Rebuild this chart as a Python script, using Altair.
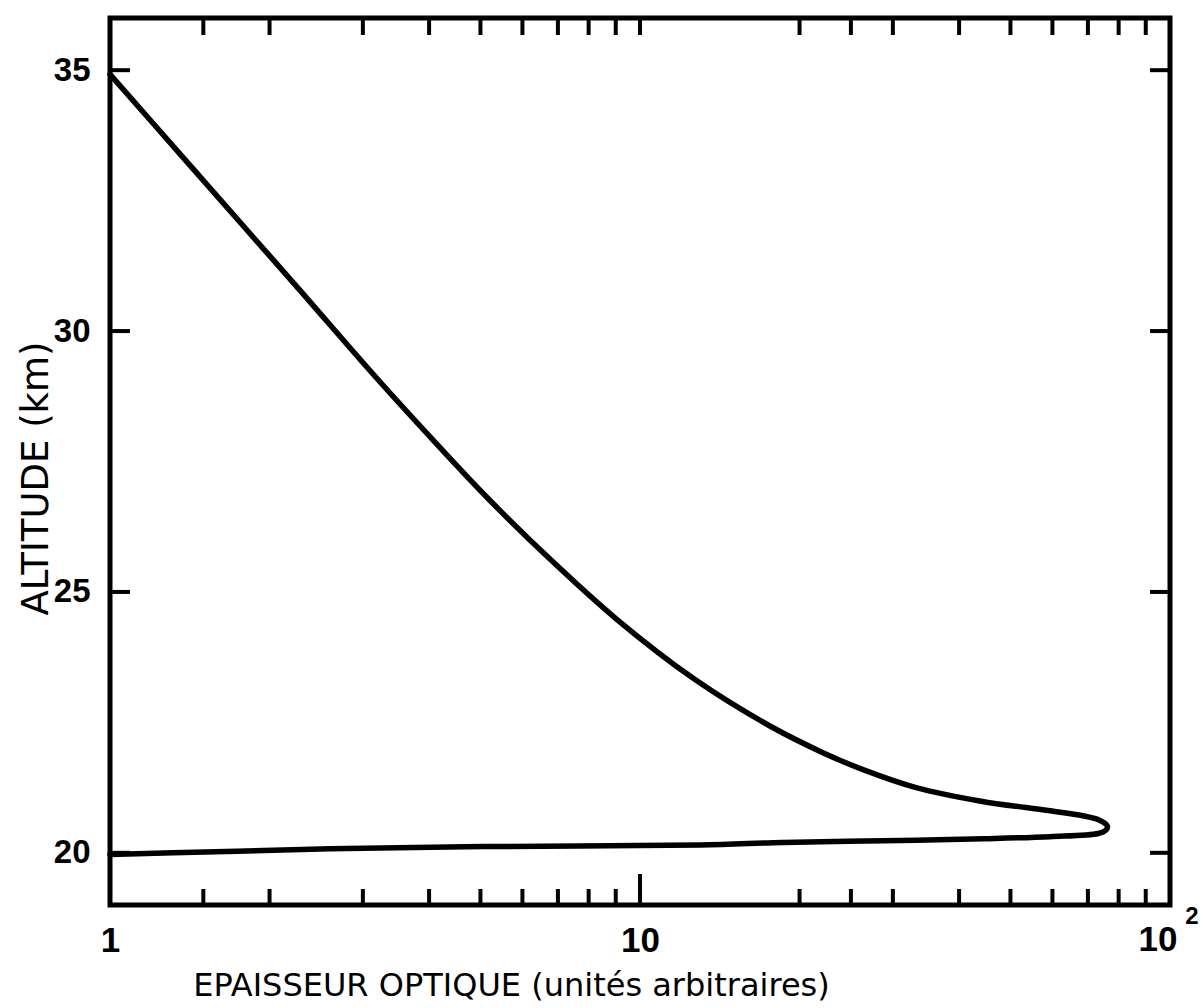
import altair as alt
import pandas as pd

# Optical thickness profile (arbitrary units) versus altitude (km).
# Upper branch, from the top of the layer down to the peak.
upper_tau = [1.0, 1.373, 1.837, 2.283, 3.19, 4.087, 5.168, 6.794, 9.05, 12.70,
             17.52, 22.24, 26.58, 33.18, 44.0, 58.9, 68.5, 73.8, 76.2]
upper_alt = [34.92, 33.33, 31.87, 30.78, 29.09, 27.89, 26.79, 25.61, 24.47, 23.32,
             22.44, 21.91, 21.58, 21.25, 20.99, 20.81, 20.71, 20.62, 20.51]
# Lower branch, from the peak back to the left edge.
lower_tau = [75.6, 73.2, 59.4, 44.4, 28.8, 18.6, 13.0, 5.06, 2.6, 1.58, 1.0]
lower_alt = [20.43, 20.37, 20.31, 20.27, 20.23, 20.20, 20.15, 20.12, 20.08, 20.02, 19.97]

x_label_values = [1, 10]
x_power_label = {"tau": [100], "base": ["10"], "exponent": ["2"]}
x_minor_ticks = [1.5, 2, 3, 4, 5, 6, 7, 8, 9, 20, 25, 30, 40, 50, 60, 70, 80, 90]
x_major_ticks = [10]
y_tick_values = [20, 25, 30, 35]

W, H = 1060, 887
LABEL_FONT = "Liberation Sans"
TITLE_FONT = "DejaVu Sans"

tau = upper_tau + lower_tau
alt_km = upper_alt + lower_alt
profile = pd.DataFrame({"tau": tau, "alt": alt_km, "order": list(range(len(tau)))})

xs = alt.Scale(type="log", domain=[1, 100], nice=False)
ys = alt.Scale(domain=[19.0, 36.0], nice=False, zero=False)

x_axis = alt.Axis(
    values=x_label_values,
    ticks=False, domain=False, grid=False,
    labelFont=LABEL_FONT, labelFontSize=35, labelFontWeight="bold", labelColor="black",
    labelPadding=18, labelFlush=False,
    title="EPAISSEUR OPTIQUE (unités arbitraires)",
    titleFont=TITLE_FONT, titleFontSize=32, titleFontWeight="normal", titleColor="black",
    titleX=401, titleY=80, titleAlign="center", titleBaseline="middle",
)
y_axis = alt.Axis(
    values=y_tick_values, format="d",
    ticks=False, domain=False, grid=False,
    labelFont=LABEL_FONT, labelFontSize=33, labelFontWeight="bold", labelColor="black",
    labelPadding=20,
    title="ALTITUDE (km)",
    titleFont=TITLE_FONT, titleFontSize=37, titleFontWeight="normal", titleColor="black",
    titleAngle=270, titleX=-74, titleY=460, titleAlign="center", titleBaseline="middle",
)

curve = alt.Chart(profile).mark_line(
    color="black", strokeWidth=5.5, interpolate="catmull-rom",
    strokeCap="round", strokeJoin="round",
).encode(
    x=alt.X("tau:Q", scale=xs, axis=x_axis),
    y=alt.Y("alt:Q", scale=ys, axis=y_axis),
    order="order:Q",
)

tick_style = dict(color="black", strokeWidth=4)

# Inward-pointing ticks on all four sides of the frame
top_ticks = alt.Chart(pd.DataFrame({"tau": x_minor_ticks + x_major_ticks})).mark_rule(
    **tick_style).encode(x=alt.X("tau:Q", scale=xs, axis=x_axis), y=alt.value(0), y2=alt.value(17))
bottom_ticks = alt.Chart(pd.DataFrame({"tau": x_minor_ticks})).mark_rule(
    **tick_style).encode(x=alt.X("tau:Q", scale=xs, axis=x_axis), y=alt.value(H), y2=alt.value(H - 16))
bottom_major = alt.Chart(pd.DataFrame({"tau": x_major_ticks})).mark_rule(
    **tick_style).encode(x=alt.X("tau:Q", scale=xs, axis=x_axis), y=alt.value(H), y2=alt.value(H - 31))
left_ticks = alt.Chart(pd.DataFrame({"alt": y_tick_values})).mark_rule(
    **tick_style).encode(y=alt.Y("alt:Q", scale=ys, axis=y_axis), x=alt.value(0), x2=alt.value(20))
right_ticks = alt.Chart(pd.DataFrame({"alt": y_tick_values})).mark_rule(
    **tick_style).encode(y=alt.Y("alt:Q", scale=ys, axis=y_axis), x=alt.value(W), x2=alt.value(W - 20))

# "10" with a raised exponent at the right end of the x axis
power_df = pd.DataFrame(x_power_label)
power_base = alt.Chart(power_df).mark_text(
    font=LABEL_FONT, fontSize=35, fontWeight="bold", color="black",
    align="center", baseline="top", dx=-12, dy=18,
).encode(x=alt.X("tau:Q", scale=xs, axis=x_axis), y=alt.value(H), text="base:N")
power_exp = alt.Chart(power_df).mark_text(
    font=LABEL_FONT, fontSize=24, fontWeight="bold", color="black",
    align="center", baseline="top", dx=22, dy=0,
).encode(x=alt.X("tau:Q", scale=xs, axis=x_axis), y=alt.value(H), text="exponent:N")

chart = alt.layer(
    curve, top_ticks, bottom_ticks, bottom_major, left_ticks, right_ticks,
    power_base, power_exp,
).properties(
    width=W, height=H,
    autosize=alt.AutoSizeParams(type="none"),
    padding={"left": 110, "top": 18, "right": 33, "bottom": 103},
    background="white",
).configure_view(
    stroke="black", strokeWidth=5
)

chart.save("out.html", embed_options={"renderer": "svg", "actions": False})
